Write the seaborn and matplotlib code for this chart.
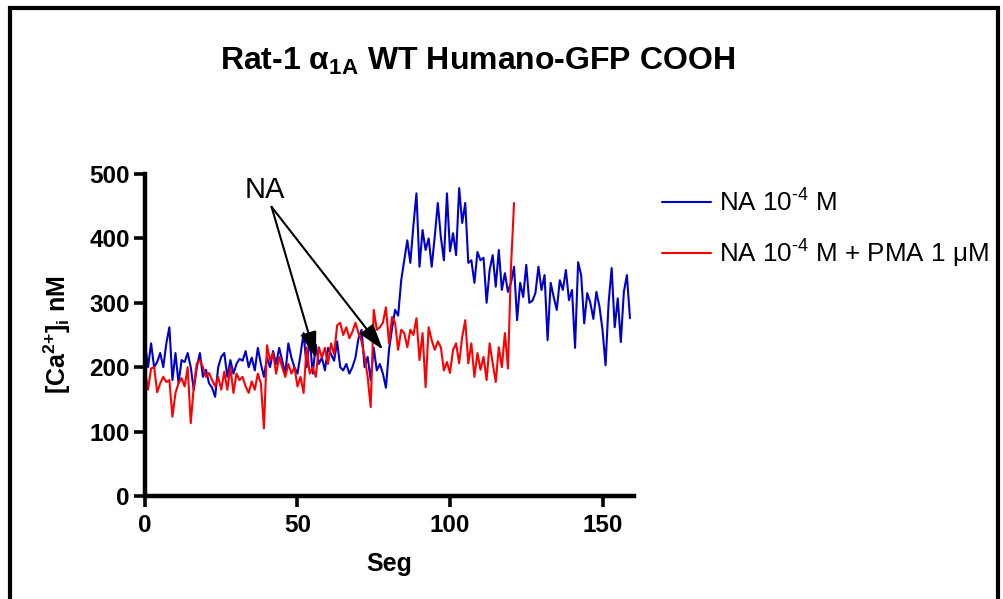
import pandas as pd
import matplotlib.pyplot as plt
import seaborn as sns
from matplotlib.lines import Line2D
from matplotlib.patches import Rectangle

# [Ca2+]i (nM), one reading per second
ca_na = [
    237, 200, 237, 200, 208, 222, 200, 237, 262, 180, 222, 175, 211, 208, 222, 200,
    165, 200, 222, 185, 196, 175, 168, 154, 200, 216, 222, 185, 211, 190, 205, 213,
    210, 225, 200, 215, 195, 230, 205, 185, 215, 200, 225, 205, 230, 210, 190, 237,
    215, 200, 190, 220, 253, 200, 245, 190, 235, 205, 215, 195, 230, 220, 210, 240,
    200, 195, 205, 190, 200, 215, 245, 258, 200, 216, 180, 230, 195, 205, 190, 168,
    227, 260, 289, 280, 335, 366, 397, 362, 420, 470, 356, 413, 382, 400, 356, 403,
    455, 402, 366, 470, 380, 408, 374, 478, 424, 455, 362, 366, 331, 379, 366, 370,
    300, 351, 374, 325, 382, 320, 346, 317, 331, 356, 273, 331, 309, 359, 300, 303,
    315, 356, 320, 343, 242, 331, 309, 289, 335, 320, 351, 304, 320, 230, 363, 343,
    268, 315, 300, 275, 317, 294, 258, 203, 300, 354, 262, 307, 239, 317, 343, 276,
]
ca_na_pma = [
    196, 165, 198, 200, 161, 175, 185, 177, 180, 123, 160, 175, 183, 170, 200, 113,
    170, 206, 211, 200, 185, 191, 180, 170, 185, 165, 193, 165, 200, 160, 190, 180,
    185, 170, 160, 178, 165, 190, 175, 105, 234, 211, 222, 190, 216, 200, 185, 205,
    190, 200, 170, 185, 160, 231, 190, 200, 185, 231, 215, 230, 205, 237, 220, 265,
    269, 250, 262, 245, 255, 269, 253, 240, 216, 185, 138, 289, 258, 262, 269, 293,
    237, 278, 269, 227, 258, 253, 231, 258, 250, 276, 211, 253, 169, 262, 242, 227,
    240, 231, 195, 208, 191, 227, 237, 206, 247, 273, 206, 237, 185, 222, 196, 216,
    180, 237, 206, 177, 231, 200, 253, 198, 356, 455,
]
label_na = "NA 10$^{\\text{-4}}$ M"
label_pma = "NA 10$^{\\text{-4}}$ M + PMA 1 μM"
x_ticks = [0, 50, 100, 150]
y_ticks = [0, 100, 200, 300, 400, 500]


def main() -> None:
    df = pd.concat([
        pd.DataFrame({"seg": range(len(ca_na)), "ca": ca_na, "cond": label_na}),
        pd.DataFrame({"seg": range(len(ca_na_pma)), "ca": ca_na_pma, "cond": label_pma}),
    ], ignore_index=True)
    colors = {label_na: "#0000cc", label_pma: "#ff0000"}

    sns.set_style("ticks")
    plt.rcParams["font.family"] = ["Liberation Sans", "DejaVu Sans"]
    plt.rcParams["mathtext.fontset"] = "custom"
    plt.rcParams["mathtext.rm"] = "Liberation Sans"
    plt.rcParams["mathtext.it"] = "Liberation Sans:italic"
    plt.rcParams["mathtext.bf"] = "Liberation Sans:bold"
    plt.rcParams["text.color"] = "black"
    plt.rcParams["axes.labelcolor"] = "black"
    plt.rcParams["xtick.color"] = "black"
    plt.rcParams["ytick.color"] = "black"
    plt.rcParams["axes.edgecolor"] = "black"

    fig = plt.figure(figsize=(10.04, 5.99), dpi=100)
    ax = fig.add_axes([0.1444, 0.172, 0.487, 0.5375])

    sns.lineplot(data=df, x="seg", y="ca", hue="cond", palette=colors,
                 estimator=None, lw=1.5, legend=False, ax=ax)

    ax.set_xlim(0, 160.3)
    ax.set_ylim(0, 500)
    ax.set_xticks(x_ticks)
    ax.set_yticks(y_ticks)
    sns.despine(ax=ax)
    for side in ["left", "bottom"]:
        ax.spines[side].set_linewidth(3.2)
    ax.tick_params(direction="out", length=8, width=2.6, labelsize=17.5, pad=3)
    ax.tick_params(axis="x", pad=5)
    for lab in ax.get_xticklabels() + ax.get_yticklabels():
        lab.set_fontweight("bold")

    ax.set_xlabel("Seg", fontsize=18, fontweight="bold")
    ax.set_ylabel("[Ca$^{\\mathbf{2{+}}}$]$_{\\mathbf{i}}$ nM", fontsize=18, fontweight="bold")
    ax.xaxis.set_label_coords(0.5, -0.175)
    ax.yaxis.set_label_coords(-0.148, 0.5)

    # NA arrows
    ax.text(39.3, 463, "NA", fontsize=21, ha="center", va="baseline")
    arrow = dict(arrowstyle="-|>,head_length=0.8,head_width=0.25", mutation_scale=20,
                 color="black", lw=1.5, shrinkA=0, shrinkB=0)
    ax.annotate("", xy=(56, 214), xytext=(41.5, 449), arrowprops=arrow)
    ax.annotate("", xy=(78, 227), xytext=(41.5, 449), arrowprops=arrow)

    fig.text(0.476, 0.898, "Rat-1 α$_{\\mathbf{1A}}$ WT Humano-GFP COOH",
             fontsize=23, fontweight="bold", ha="center", va="center")

    handles = [Line2D([], [], color=colors[label_na], lw=1.5),
               Line2D([], [], color=colors[label_pma], lw=1.5)]
    fig.legend(handles, [label_na, label_pma], loc="upper left",
               bbox_to_anchor=(0.6594, 0.6845), frameon=False, fontsize=18.7,
               handlelength=1.87, handletextpad=0.31, labelspacing=0.82,
               borderpad=0, borderaxespad=0)

    fig.add_artist(Rectangle((0.0095, -0.1), 0.985, 1.0866, transform=fig.transFigure,
                             fill=False, lw=3, ec="black"))

    fig.savefig("out.png", dpi=100)


if __name__ == "__main__":
    main()
